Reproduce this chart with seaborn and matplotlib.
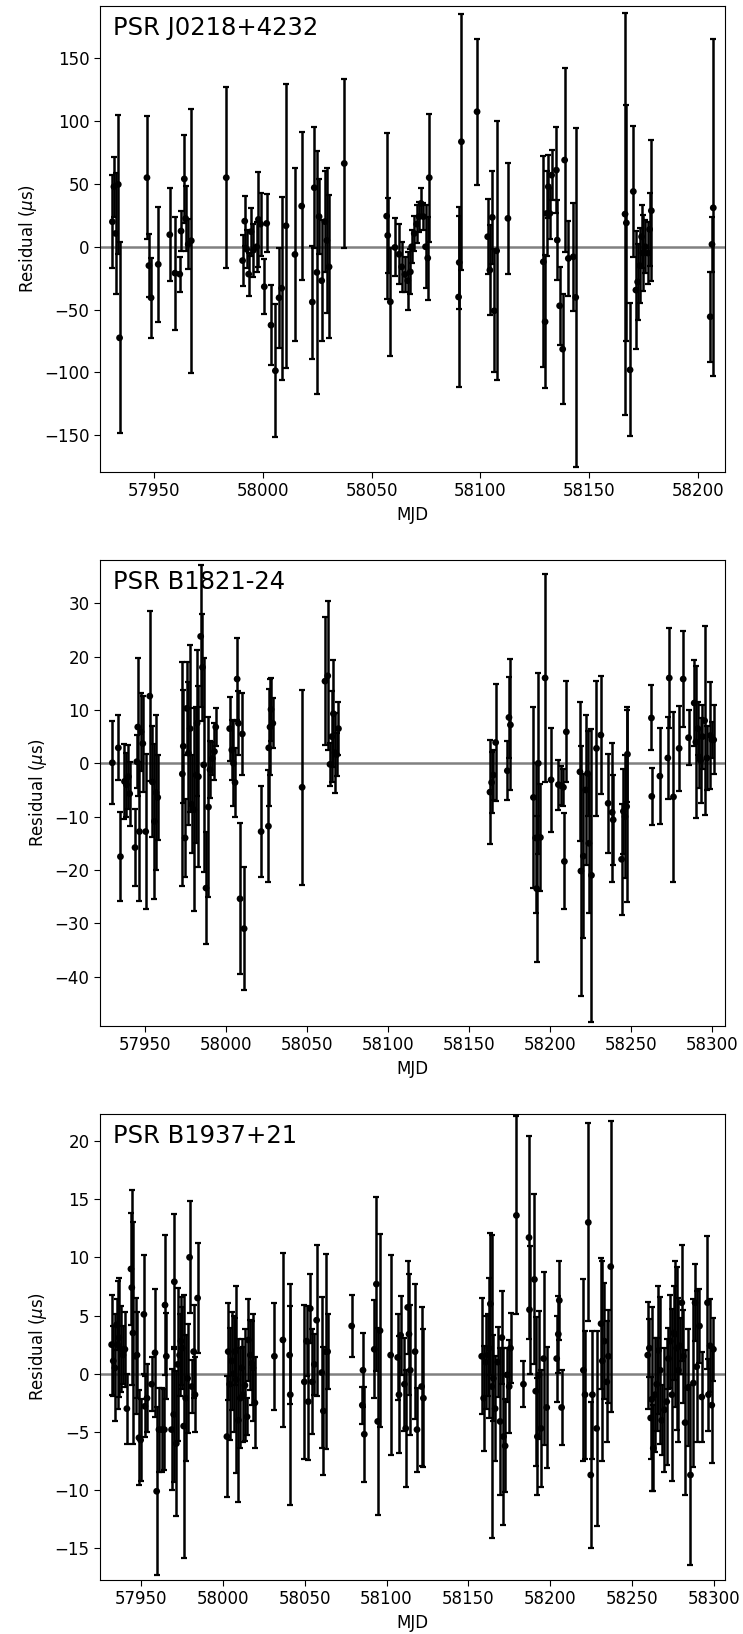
import matplotlib
matplotlib.use("Agg")
import matplotlib.pyplot as plt
import seaborn as sns

# ================= DATA =================
# PSR J0218+4232
mjd_j0218 = [57930.7, 57931.4, 57932.2, 57933.4, 57934.0, 57946.6, 57947.5, 57948.5, 57951.8, 57957.1,
             57959.5, 57961.7, 57962.3, 57963.8, 57964.4, 57965.6, 57967.0, 57983.1, 57990.6, 57991.6,
             57992.5, 57993.4, 57994.5, 57995.6, 57997.1, 57997.9, 57998.9, 58000.6, 58001.7, 58003.7,
             58005.7, 58007.4, 58008.6, 58010.6, 58014.7, 58017.8, 58022.7, 58023.6, 58024.8, 58025.8,
             58027.0, 58028.5, 58029.4, 58030.4, 58037.4, 58056.9, 58057.4, 58058.6, 58060.7, 58062.6,
             58063.8, 58065.3, 58066.6, 58067.8, 58068.4, 58069.6, 58070.7, 58071.8, 58072.7, 58073.8,
             58074.8, 58075.8, 58076.5, 58090.0, 58090.3, 58091.3, 58098.5, 58103.4, 58104.4, 58105.5,
             58106.4, 58107.5, 58112.7, 58129.0, 58129.8, 58130.5, 58131.3, 58132.0, 58132.8, 58135.0,
             58135.4, 58136.5, 58137.9, 58138.8, 58140.5, 58142.8, 58143.9, 58166.6, 58167.2, 58168.9,
             58170.4, 58171.6, 58172.4, 58173.4, 58174.2, 58174.8, 58175.9, 58177.1, 58177.9, 58178.7,
             58205.8, 58206.6, 58207.2]
res_j0218 = [19.9, 47.8, 10.6, 49.6, -72.5, 55.0, -15.0, -40.6, -14.0, 9.6,
             -21.0, -21.8, 12.5, 54.0, 22.5, 2.0, 4.8, 55.0, -11.0, 20.4,
             -2.0, -21.8, 12.0, -2.7, 0.0, 21.8, 18.0, -31.8, 18.6, -62.4,
             -98.7, -40.6, -33.0, 16.7, -6.1, 32.4, -44.0, 47.0, -20.4, 24.0,
             -27.0, 20.0, 5.0, -16.0, 66.3, 24.4, 9.0, -43.8, -0.5, -6.0,
             -16.0, -22.0, -27.0, -20.0, 0.0, 10.6, 18.0, 24.0, 34.5, 24.0,
             0.0, -9.0, 55.0, -40.0, -12.5, 83.6, 107.5, 8.0, -18.6, 23.4,
             -51.0, -3.2, 22.6, -12.0, -59.7, 26.5, 47.8, 26.5, 57.0, 61.0,
             5.3, -47.0, -81.5, 69.0, -9.3, -8.0, -40.3, 26.0, 19.0, -98.0,
             44.0, -34.5, -28.0, -15.0, 8.0, -5.0, 0.0, -5.0, 13.8, 28.7,
             -55.7, 1.9, 31.0]
err_j0218 = [37, 24, 48, 55, 76, 49, 25, 32, 46, 37,
             45, 14, 16, 35, 26, 20, 105, 72, 20, 20,
             15, 17, 19, 21, 20, 38, 25, 22, 23, 32,
             53, 40, 73, 113, 69, 59, 45, 48, 97, 30,
             48, 40, 58, 57, 67, 66, 30, 43, 23, 24,
             20, 14, 23, 18, 13, 14, 15, 12, 12, 11,
             33, 33, 51, 72, 37, 102, 58, 30, 36, 37,
             49, 103, 44, 84, 53, 34, 25, 20, 20, 34,
             32, 31, 44, 73, 30, 43, 135, 160, 94, 53,
             52, 47, 30, 30, 25, 30, 21, 25, 29, 56,
             36, 22, 134]

# PSR B1821-24
mjd_b1821 = [57929.8, 57933.5, 57934.8, 57937.3, 57938.5, 57939.7, 57940.5, 57943.8, 57944.9, 57945.5,
             57946.5, 57947.5, 57948.6, 57950.4, 57952.9, 57954.5, 57955.8, 57956.8, 57957.8, 57973.0,
             57973.6, 57974.7, 57975.7, 57976.7, 57977.8, 57978.8, 57980.2, 57981.5, 57982.1, 57982.9,
             57984.3, 57985.4, 57986.2, 57987.6, 57989.1, 57990.1, 57991.5, 57992.8, 57993.6, 58002.2,
             58003.5, 58004.5, 58005.5, 58006.8, 58007.6, 58008.6, 58010.0, 58011.1, 58021.6, 58026.1,
             58026.3, 58027.1, 58027.7, 58028.8, 58046.9, 58061.0, 58062.7, 58064.1, 58065.2, 58066.2,
             58067.2, 58068.2, 58069.3, 58162.8, 58163.8, 58164.9, 58166.3, 58173.5, 58174.5, 58175.4,
             58189.6, 58191.0, 58191.6, 58192.6, 58193.9, 58196.8, 58200.5, 58205.0, 58206.6, 58208.1,
             58208.7, 58209.9, 58218.3, 58218.9, 58220.4, 58221.8, 58223.0, 58223.8, 58225.4, 58228.5,
             58231.2, 58235.7, 58238.2, 58238.8, 58244.0, 58245.1, 58246.1, 58247.1, 58247.6, 58262.4,
             58262.6, 58267.6, 58272.5, 58273.4, 58276.0, 58279.5, 58282.0, 58285.3, 58288.8, 58289.8,
             58291.0, 58291.9, 58292.7, 58293.9, 58295.2, 58296.6, 58298.7, 58299.7, 58300.8]
res_b1821 = [0.1, 2.9, -17.5, -3.4, -4.0, -2.5, -5.7, -15.8, 0.3, 6.8,
             -12.8, 5.9, 3.7, -12.8, 12.6, -3.5, -10.9, -5.5, -6.4, -2.0,
             3.2, -14.0, 10.3, 1.9, 6.5, -7.7, -8.7, -2.2, 7.5, -2.5,
             23.8, 18.0, -0.3, -23.4, -8.2, -1.2, 0.9, 2.2, 6.8, 6.5,
             2.5, 0.0, -3.6, 15.8, 7.5, -25.4, 5.5, -31.0, -12.8, -11.8,
             2.9, 6.8, 10.1, 7.5, -4.5, 15.4, 16.4, -0.2, 5.0, 9.3,
             2.0, 1.6, 6.5, -5.4, -3.6, -2.2, 3.9, -1.4, 8.6, 7.2,
             -6.4, -14.0, -23.5, 0.0, -13.9, 16.0, -3.1, -4.0, -4.2, -4.5,
             -18.4, 5.9, -1.6, -20.2, -17.4, -5.0, -1.9, -15.0, -21.0, 2.8,
             5.3, -7.5, -9.2, -10.6, -18.0, -9.0, -10.0, -8.1, 1.7, 8.5,
             -6.2, -2.4, 1.0, 16.0, -6.3, 2.8, 15.8, 4.8, 11.3, 4.0,
             6.5, 1.0, 0.5, 5.0, 8.0, 1.0, 5.2, 4.4, 4.4]
err_b1821 = [7.8, 6.1, 8.4, 7.0, 6.0, 6.0, 6.0, 7.3, 5.0, 13.0,
             13.0, 7.3, 9.0, 14.6, 16.0, 10.4, 14.5, 14.5, 8.0, 21.0,
             10.6, 7.3, 8.7, 13.4, 15.7, 9.2, 19.0, 12.8, 13.7, 17.0,
             13.3, 10.0, 20.0, 10.5, 16.8, 5.3, 3.1, 5.3, 3.5, 6.0,
             5.6, 8.0, 6.5, 7.7, 6.0, 14.2, 7.7, 11.5, 8.6, 10.5,
             11.0, 9.0, 5.9, 4.7, 18.3, 12.0, 14.0, 4.0, 8.6, 10.0,
             7.5, 4.0, 5.0, 9.7, 5.8, 4.7, 11.0, 5.5, 7.6, 12.3,
             17.0, 14.0, 13.7, 17.0, 10.0, 19.5, 9.7, 4.7, 3.6, 3.5,
             9.0, 9.5, 13.0, 23.5, 15.4, 14.0, 8.0, 13.0, 27.5, 12.7,
             11.0, 9.3, 13.0, 8.4, 10.4, 8.0, 11.5, 18.0, 8.9, 6.1,
             5.3, 9.0, 7.7, 9.3, 16.0, 8.0, 9.0, 5.2, 8.0, 14.3,
             5.0, 5.6, 8.0, 6.0, 17.7, 6.0, 10.0, 3.4, 6.5]

# PSR B1937+21
mjd_b1937 = [57932.1, 57933.1, 57934.1, 57935.1, 57935.7, 57936.6, 57937.8, 57939.0, 57940.2, 57941.4,
             57943.9, 57944.4, 57945.1, 57946.7, 57947.6, 57948.8, 57949.8, 57951.8, 57952.4, 57953.7,
             57956.5, 57958.6, 57959.6, 57961.0, 57962.6, 57964.3, 57964.7, 57965.5, 57968.7, 57970.0,
             57970.4, 57971.6, 57972.4, 57973.6, 57974.4, 57975.2, 57976.1, 57977.3, 57978.5, 57979.7,
             57981.0, 57982.2, 57983.0, 57984.6, 58002.5, 58003.3, 58004.2, 58005.4, 58006.6, 58007.4,
             58008.2, 58009.5, 58010.7, 58011.5, 58012.3, 58013.5, 58014.8, 58015.6, 58016.8, 58017.6,
             58018.4, 58019.6, 58031.5, 58036.7, 58040.8, 58041.2, 58049.8, 58051.2, 58052.2, 58053.4,
             58054.6, 58055.9, 58057.3, 58060.4, 58061.4, 58062.8, 58064.0, 58078.7, 58085.2, 58085.6,
             58086.4, 58092.5, 58093.8, 58094.6, 58096.0, 58102.5, 58106.8, 58107.6, 58108.6, 58110.9,
             58111.7, 58112.9, 58113.7, 58114.5, 58117.4, 58118.6, 58121.4, 58122.5, 58158.1, 58159.3,
             58160.5, 58161.8, 58162.6, 58163.4, 58164.2, 58165.2, 58166.3, 58167.9, 58169.3, 58170.4,
             58171.4, 58172.4, 58173.6, 58174.9, 58175.7, 58179.3, 58183.6, 58187.0, 58187.3, 58190.3,
             58191.1, 58192.1, 58193.1, 58194.3, 58195.9, 58197.8, 58203.9, 58204.9, 58205.5, 58206.9,
             58220.2, 58221.2, 58223.2, 58224.7, 58225.7, 58228.3, 58231.0, 58231.8, 58233.0, 58234.5,
             58235.5, 58236.9, 58259.5, 58260.5, 58261.3, 58261.9, 58262.9, 58264.0, 58265.0, 58266.0,
             58267.2, 58268.0, 58269.7, 58271.1, 58272.1, 58273.3, 58274.2, 58275.4, 58276.2, 58277.2,
             58278.2, 58279.2, 58280.3, 58281.3, 58282.3, 58283.9, 58285.6, 58287.4, 58288.4, 58289.4,
             58291.1, 58292.5, 58296.0, 58296.6, 58297.6, 58298.6, 58299.6]
res_b1937 = [2.5, 1.1, 0.5, 4.2, 2.5, 3.1, 2.1, 1.6, 2.1, -3.0,
             9.0, 7.4, 3.5, 1.5, 1.6, -5.5, -5.7, 5.1, -2.8, -2.1,
             -0.9, 1.8, -10.1, -4.8, -4.8, -4.8, 5.9, 1.5, -4.8, -3.5,
             7.9, -6.0, 0.8, 1.6, 2.8, 2.2, -4.5, -2.1, -0.4, 10.0,
             -1.1, 1.9, -1.8, 6.5, -5.4, 1.9, -0.9, 1.1, 0.0, 1.9,
             -0.5, -4.0, -2.1, 0.5, -1.8, -1.0, -3.7, 2.9, 1.6, 0.9,
             0.5, -2.5, 1.5, 2.9, 1.6, -1.8, -0.7, 2.8, -2.4, 5.6,
             -0.7, 0.8, 4.6, 0.1, -3.2, 1.9, 1.9, 4.1, -2.7, 0.3,
             -5.2, 2.1, 7.7, -4.1, 3.7, 1.6, 1.4, -1.8, 3.3, -0.9,
             -4.7, 5.7, 3.4, 0.3, 1.9, -4.8, -1.1, -2.1, 1.5, -2.1,
             1.0, 1.6, 2.2, 6.0, -1.1, -0.4, -3.0, 1.0, -4.1, 3.1,
             -5.4, -6.2, -0.1, -1.1, 2.2, 13.6, -0.9, 11.7, 5.5, 8.1,
             -1.5, -5.4, -0.1, -4.7, 1.3, -2.9, 1.3, 3.4, 6.3, -2.9,
             0.3, -1.8, 13.0, -8.7, -1.8, -4.7, 4.3, 1.1, 2.8, -0.7,
             1.5, 9.2, 1.6, 2.2, -3.8, -2.2, -6.4, -1.8, -0.9, 2.0,
             0.3, -4.0, -3.1, -2.4, 1.3, 2.8, -1.8, 3.5, 3.4, 2.2,
             0.3, 2.4, 6.1, 1.5, -4.2, -1.2, -8.7, -0.8, 6.1, 0.6,
             4.1, -2.0, 6.1, -1.8, 2.4, -2.7, 2.1]
err_b1937 = [4.3, 3.0, 4.6, 2.2, 5.5, 5.1, 3.7, 2.5, 3.2, 3.0,
             4.8, 8.4, 9.5, 5.0, 3.7, 4.1, 3.5, 5.1, 2.6, 2.9,
             2.3, 5.5, 7.2, 3.6, 3.6, 3.5, 6.0, 3.7, 5.2, 5.8,
             5.8, 6.2, 6.6, 3.5, 3.8, 3.5, 11.3, 5.4, 4.7, 4.8,
             2.3, 4.0, 3.2, 4.7, 5.2, 4.2, 4.8, 4.2, 5.0, 2.9,
             8.0, 7.0, 4.3, 2.5, 4.1, 4.8, 1.6, 3.5, 3.0, 3.6,
             4.6, 3.9, 4.6, 7.5, 4.2, 9.5, 6.6, 3.0, 5.0, 3.0,
             4.5, 2.6, 6.5, 6.5, 5.5, 8.4, 3.2, 2.7, 1.6, 3.2,
             4.1, 4.2, 7.5, 8.0, 8.3, 8.6, 3.7, 5.0, 3.4, 4.0,
             5.0, 4.0, 5.2, 5.6, 5.8, 3.6, 6.8, 5.9, 5.0, 4.5,
             4.0, 3.5, 6.0, 6.1, 13.0, 3.7, 4.5, 3.0, 6.3, 4.0,
             7.6, 4.0, 2.3, 4.0, 3.0, 8.5, 2.0, 8.7, 5.5, 7.3,
             6.4, 5.0, 5.5, 5.0, 7.4, 5.2, 3.7, 3.3, 3.4, 3.2,
             7.8, 5.5, 8.5, 6.3, 5.5, 8.4, 5.6, 8.6, 5.0, 5.2,
             4.0, 12.5, 4.6, 2.5, 3.5, 7.9, 3.7, 4.9, 4.0, 5.5,
             6.3, 3.0, 5.3, 5.4, 2.6, 4.0, 7.4, 4.0, 6.3, 7.0,
             6.2, 2.4, 5.0, 4.0, 6.2, 5.0, 7.7, 7.2, 3.3, 6.5,
             3.2, 3.9, 5.7, 3.1, 4.0, 5.0, 2.7]

pulsar_names = ["PSR J0218+4232", "PSR B1821-24", "PSR B1937+21"]

# ================= SETTINGS =================
X_LIMITS = [(57925.0, 58212.6), (57922.2, 58307.8), (57925.0, 58306.7)]
Y_LIMITS = [(-179.0, 191.6), (-49.2, 38.1), (-17.7, 22.3)]

sns.set_style("ticks", {"axes.edgecolor": "black", "xtick.color": "black",
                        "ytick.color": "black", "text.color": "black",
                        "axes.labelcolor": "black"})
plt.rcParams["font.family"] = ["DejaVu Sans"]
plt.rcParams["xtick.labelsize"] = 12
plt.rcParams["ytick.labelsize"] = 12
plt.rcParams["axes.labelsize"] = 12
plt.rcParams["xtick.major.size"] = 4
plt.rcParams["ytick.major.size"] = 4

fig, axes = plt.subplots(3, 1, figsize=(7.43, 16.34), dpi=100)
fig.subplots_adjust(left=0.1346, right=0.9758, top=0.9963, bottom=0.0332, hspace=0.19)

series = [(mjd_j0218, res_j0218, err_j0218),
          (mjd_b1821, res_b1821, err_b1821),
          (mjd_b1937, res_b1937, err_b1937)]

# ================= PLOT =================
for i, ax in enumerate(axes):
    mjd, res, err = series[i]
    ax.axhline(0, color="grey", lw=1.8, zorder=1)
    ax.errorbar(mjd, res, yerr=err, fmt="none", ecolor="black",
                elinewidth=1.8, capsize=2.5, capthick=1.6, zorder=2)
    sns.scatterplot(x=mjd, y=res, color="black", s=24, edgecolor="none",
                    ax=ax, zorder=3, legend=False)
    ax.text(0.021, 0.978, pulsar_names[i], transform=ax.transAxes,
            fontsize=17.5, va="top", ha="left")
    ax.set_xlim(*X_LIMITS[i])
    ax.set_ylim(*Y_LIMITS[i])
    ax.set_xlabel("MJD")
    ax.set_ylabel(r"Residual ($\mu$s)")

plt.savefig("out.png", dpi=100)
